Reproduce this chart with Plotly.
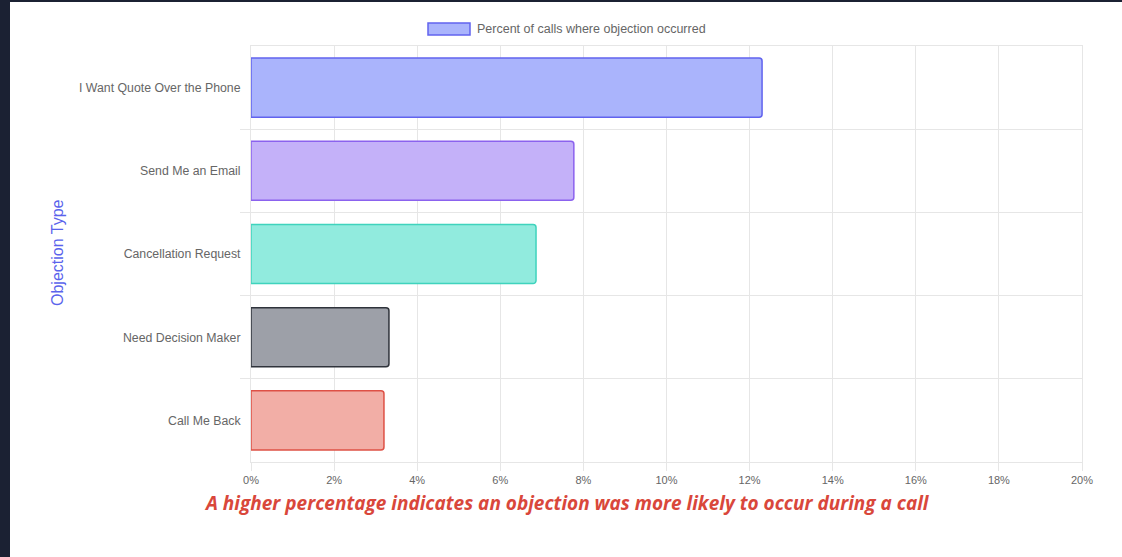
import plotly.graph_objects as go

categories = ["I Want Quote Over the Phone", "Send Me an Email", "Cancellation Request",
              "Need Decision Maker", "Call Me Back"]
percent_values = [12.3, 7.77, 6.86, 3.32, 3.2]
fill_colors = ["#aab4fc", "#c4b1f9", "#91ebde", "#9da0a8", "#f2aea6"]
border_colors = ["#6163ee", "#8b62ee", "#3fd3bd", "#2f333b", "#de5146"]
x_tick_values = [0, 2, 4, 6, 8, 10, 12, 14, 16, 18, 20]
x_tick_labels = [f"{v}%" for v in x_tick_values]
legend_label = "Percent of calls where objection occurred"
y_title = "Objection Type"
note_text = "A higher percentage indicates an objection was more likely to occur during a call"

W, H = 1122, 557
ML, MR, MT, MB = 251, 40, 46, 95
PW, PH = W - ML - MR, H - MT - MB


def px_x(px):
    return (px - ML) / PW


def px_y(py):
    return (H - MB - py) / PH


positions = list(range(len(categories)))

fig = go.Figure()
fig.add_trace(go.Bar(
    x=percent_values,
    y=positions,
    orientation="h",
    width=0.71,
    marker=dict(color=fill_colors, line=dict(color=border_colors, width=1.5)),
    showlegend=False,
    hoverinfo="x+text",
    text=categories,
    textposition="none",
))

grid = "#e6e6e6"
fig.update_layout(
    width=W, height=H,
    margin=dict(l=ML, r=MR, t=MT, b=MB),
    paper_bgcolor="white",
    plot_bgcolor="white",
    barcornerradius=3,
    font=dict(family="Liberation Sans, Arial, sans-serif", color="#666666", size=12),
    xaxis=dict(
        range=[0, 20],
        tickvals=x_tick_values,
        ticktext=x_tick_labels,
        showgrid=True, gridcolor=grid, gridwidth=1,
        ticks="outside", ticklen=8, tickcolor=grid,
        showline=True, linecolor=grid, mirror=True,
        zeroline=False,
        tickfont=dict(size=11, color="#666666"),
        fixedrange=True,
    ),
    yaxis=dict(
        range=[len(categories) - 0.5, -0.5],
        tickvals=positions,
        ticktext=categories,
        showgrid=False,
        ticks="",
        showline=True, linecolor=grid, mirror=True,
        zeroline=False,
        ticklabelstandoff=7,
        tickfont=dict(size=12.3, color="#666666"),
        minor=dict(tickmode="array", tickvals=[p + 0.5 for p in positions[:-1]],
                   showgrid=True, gridcolor=grid, ticks="outside", ticklen=10,
                   tickcolor=grid),
        fixedrange=True,
    ),
)

# custom legend
fig.add_shape(type="rect", xref="paper", yref="paper",
              x0=px_x(428), x1=px_x(470), y0=px_y(35), y1=px_y(23),
              fillcolor=fill_colors[0], line=dict(color=border_colors[0], width=1.5))
fig.add_annotation(xref="paper", yref="paper", x=px_x(475), y=px_y(29),
                   xanchor="left", yanchor="middle", showarrow=False,
                   text=legend_label, font=dict(size=12.5, color="#666666"))

# y-axis title
fig.add_annotation(xref="paper", yref="paper", x=px_x(57), y=px_y(253),
                   xanchor="center", yanchor="middle", showarrow=False, textangle=-90,
                   text=y_title,
                   font=dict(size=16, color="#5a63ec", family="Liberation Sans, Arial, sans-serif"))

# note under chart
fig.add_annotation(xref="paper", yref="paper", x=px_x(567), y=px_y(503),
                   xanchor="center", yanchor="middle", showarrow=False,
                   text=f"<b><i>{note_text}</i></b>",
                   font=dict(size=19, color="#d9473b", family="Open Sans, sans-serif"))

# dark page edges
fig.add_shape(type="rect", xref="paper", yref="paper", layer="above",
              x0=px_x(0), x1=px_x(10), y0=px_y(H), y1=px_y(0),
              fillcolor="#1b2133", line=dict(width=0))
fig.add_shape(type="rect", xref="paper", yref="paper", layer="above",
              x0=px_x(0), x1=px_x(W), y0=px_y(2), y1=px_y(0),
              fillcolor="#1b2133", line=dict(width=0))

fig.write_html("out.html")
